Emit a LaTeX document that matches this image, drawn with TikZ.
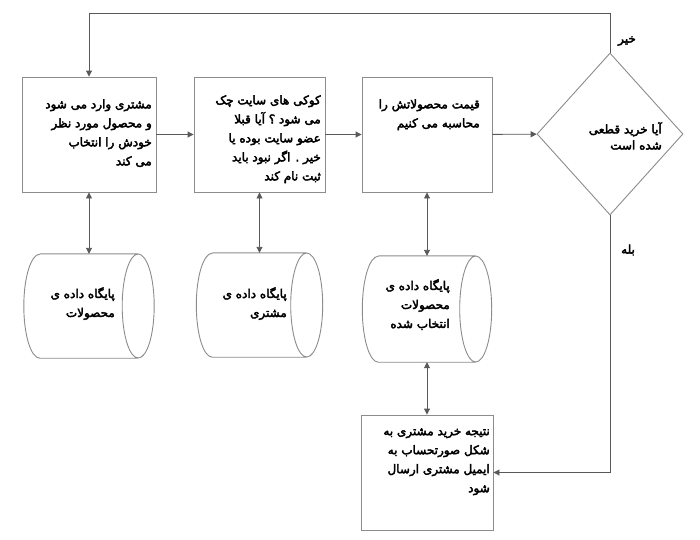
\documentclass[tikz,border=0pt]{standalone}
\usepackage{fontspec}
\usetikzlibrary{arrows.meta,shapes.geometric}
\TeXXeTstate=1
\newfontfamily\fa[Script=Arabic,FakeBold=3.2]{DejaVu Sans}
\newcommand{\rl}[1]{\beginR #1\endR}
\tikzset{
 boxnode/.style={draw=black!45,line width=.9pt,inner sep=0pt},
 dbnode/.style={inner sep=0pt},
 dbline/.style={draw=black!45,line width=.9pt},
 txt/.style={anchor=north east,align=right,inner sep=0pt},
 flow/.style={draw=black!65,line width=.9pt,-{Triangle[length=6pt,width=6pt]}},
 both/.style={draw=black!65,line width=.9pt,{Triangle[length=6pt,width=6pt]}-{Triangle[length=6pt,width=6pt]}}
}
\begin{document}
\begin{tikzpicture}[x=1pt,y=-1pt,font=\fa\fontsize{12}{19}\selectfont]
\useasboundingbox[fill=white] (0,0) rectangle (700,539);
\node[boxnode,minimum width=134pt,minimum height=115pt] (b1) at (89,134.5) {};
\node[boxnode,minimum width=131pt,minimum height=115pt] (b2) at (259.5,134.5) {};
\node[boxnode,minimum width=130pt,minimum height=115pt] (b3) at (427,134.5) {};
\node[boxnode,minimum width=132pt,minimum height=115pt] (b4) at (427,472.5) {};
\node[dbnode,minimum width=130pt,minimum height=104pt] (c1) at (89,306) {};
\node[dbnode,minimum width=126pt,minimum height=104pt] (c2) at (259.5,305) {};
\node[dbnode,minimum width=129pt,minimum height=106pt] (c3) at (427,309) {};
\node[diamond,boxnode,minimum width=146pt,minimum height=162pt] (d) at (610,134) {};
\foreach \c/\r in {c1/52,c2/52,c3/53}
 \draw[dbline] ([xshift=16pt]\c.north west) -- ([xshift=-16pt]\c.north east)
  ([xshift=-16pt]\c.east) ellipse[x radius=16pt,y radius=\r pt]
  ([xshift=-16pt]\c.south east) -- ([xshift=16pt]\c.south west)
  arc[start angle=270,end angle=90,x radius=16pt,y radius=\r pt];
\coordinate (top) at (0,13);
\node[txt] (t1) at (152,99) {\rl{مشتری وارد می شود}\\\rl{و محصول مورد نظر}\\\rl{خودش را انتخاب}\\\rl{می کند}};
\node[txt] (t2) at (321,95) {\rl{کوکی های سایت چک}\\\rl{می شود ؟ آیا قبلا}\\\rl{عضو سایت بوده یا}\\\rl{خیر . اگر نبود باید}\\\rl{ثبت نام کند}};
\node[txt] (t3) at (480,99) {\rl{قیمت محصولاتش را}\\\rl{محاسبه می کنیم}};
\node[txt,font=\fa\fontsize{12}{16}\selectfont] (td) at (662,122) {\rl{آیا خرید قطعی}\\\rl{شده است}};
\node[txt] (tc1) at (115,287) {\rl{پایگاه داده ی}\\\rl{محصولات}};
\node[txt] (tc2) at (287,287) {\rl{پایگاه داده ی}\\\rl{مشتری}};
\node[txt] (tc3) at (450,279) {\rl{پایگاه داده ی}\\\rl{محصولات}\\\rl{انتخاب شده}};
\node[txt] (t4) at (490,428) {\rl{نتیجه خرید مشتری به}\\\rl{شکل صورتحساب به}\\\rl{ایمیل مشتری ارسال}\\\rl{شود}};
\node (no) at (627,41) {\rl{خیر}};
\node (yes) at (628,250) {\rl{بله}};
\draw[flow] (b1) -- (b2);
\draw[flow] (b2) -- (b3);
\draw[flow] (b3) -- (d);
\draw[flow] (d.north) -- (d.north |- top) -| (b1.north);
\draw[flow] (d.south) |- (b4.east);
\foreach \a/\b in {b1/c1,b2/c2,b3/c3,c3/b4}
 \draw[both] (\a.south) -- (\b.north);
\end{tikzpicture}
\end{document}
